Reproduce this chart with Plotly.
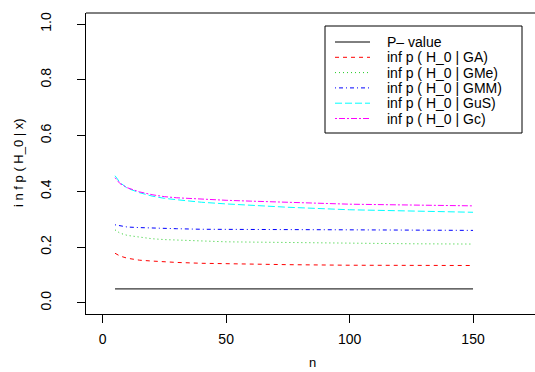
import plotly.graph_objects as go

n_vals = [5, 7, 10, 15, 20, 25, 30, 40, 50, 60, 75, 100, 125, 150]
p_value = [0.05] * len(n_vals)
ga = [0.178, 0.168, 0.160, 0.153, 0.150, 0.147, 0.145, 0.142, 0.140, 0.139, 0.137, 0.135, 0.134, 0.134]
gme = [0.262, 0.250, 0.242, 0.235, 0.230, 0.227, 0.225, 0.221, 0.219, 0.218, 0.216, 0.214, 0.212, 0.211]
gmm = [0.280, 0.276, 0.272, 0.270, 0.268, 0.267, 0.266, 0.264, 0.264, 0.263, 0.263, 0.262, 0.261, 0.260]
gus = [0.456, 0.432, 0.411, 0.395, 0.383, 0.375, 0.370, 0.361, 0.355, 0.350, 0.343, 0.334, 0.329, 0.325]
gc = [0.449, 0.428, 0.413, 0.398, 0.388, 0.381, 0.377, 0.372, 0.368, 0.365, 0.361, 0.354, 0.351, 0.348]

series_names = ["P\u2013 value", "inf p ( H_0 | GA)", "inf p ( H_0 | GMe)",
                "inf p ( H_0 | GMM)", "inf p ( H_0 | GuS)", "inf p ( H_0 | Gc)"]
series_values = [p_value, ga, gme, gmm, gus, gc]
colors = ["black", "red", "#22CC22", "blue", "cyan", "magenta"]
dashes = ["solid", "4px,4px", "1px,3px", "1px,3px,4px,3px", "7px,3px", "2px,2px,6px,2px"]

x_ticks = [0, 50, 100, 150]
y_ticks = [0.0, 0.2, 0.4, 0.6, 0.8, 1.0]
y_tick_labels = ["0.0", "0.2", "0.4", "0.6", "0.8", "1.0"]
y_title = "i n f p ( H_0 | x)"
x_title = "n"

FONT = "Liberation Sans, Arial, sans-serif"
W, H = 535, 372
ML, MT, MB, MR = 86, 13, 58, 0
PW, PH = W - ML - MR, H - MT - MB

def px_x(p):
    return (p - ML) / PW

def px_y(p):
    return (H - MB - p) / PH

fig = go.Figure()
for name, vals, col, dash in zip(series_names, series_values, colors, dashes):
    fig.add_trace(go.Scatter(x=n_vals, y=vals, mode="lines", name=name,
                             line=dict(color=col, width=1, dash=dash),
                             showlegend=False, hoverinfo="skip"))

shapes = []
annotations = []
# plot box top line (right edge lies beyond the window)
shapes.append(dict(type="line", xref="paper", yref="paper", x0=0, x1=1, y0=1, y1=1,
                   line=dict(color="black", width=1)))

# manual legend
shapes.append(dict(type="rect", xref="paper", yref="paper",
                   x0=px_x(325), x1=px_x(522), y0=px_y(133), y1=px_y(26),
                   line=dict(color="black", width=1), fillcolor="white"))
row0, step = 42, 15.3
for i, (name, col, dash) in enumerate(zip(series_names, colors, dashes)):
    yy = px_y(row0 + i * step)
    shapes.append(dict(type="line", xref="paper", yref="paper",
                       x0=px_x(335), x1=px_x(370), y0=yy, y1=yy,
                       line=dict(color=col, width=1, dash=dash)))
    annotations.append(dict(xref="paper", yref="paper", x=px_x(385), y=yy,
                            text=name, showarrow=False, xanchor="left", yanchor="middle",
                            font=dict(family=FONT, size=14, color="black")))

annotations.append(dict(xref="paper", yref="paper", x=px_x(18), y=px_y(163),
                        text=y_title, showarrow=False, textangle=-90,
                        xanchor="center", yanchor="middle",
                        font=dict(family=FONT, size=13, color="black")))
annotations.append(dict(xref="paper", yref="paper", x=px_x(312), y=px_y(362),
                        text=x_title, showarrow=False, xanchor="center", yanchor="middle",
                        font=dict(family=FONT, size=13, color="black")))

fig.update_layout(
    width=W, height=H,
    margin=dict(l=ML, r=MR, t=MT, b=MB, pad=0, autoexpand=False),
    paper_bgcolor="white", plot_bgcolor="white",
    font=dict(family=FONT, size=14, color="black"),
    shapes=shapes, annotations=annotations,
    xaxis=dict(range=[-6.76, 175.1], tickmode="array", tickvals=x_ticks,
               ticktext=[str(v) for v in x_ticks], automargin=False,
               ticks="outside", ticklen=8, tickwidth=1, tickcolor="black",
               showline=True, linecolor="black", linewidth=1, mirror=False,
               showgrid=False, zeroline=False, ticklabelstandoff=4,
               tickfont=dict(family=FONT, size=14)),
    yaxis=dict(range=[-0.04, 1.04], tickmode="array", tickvals=y_ticks,
               ticktext=y_tick_labels, tickangle=-90, automargin=False,
               ticks="outside", ticklen=8, tickwidth=1, tickcolor="black",
               showline=True, linecolor="black", linewidth=1, mirror=False,
               showgrid=False, zeroline=False, ticklabelstandoff=20,
               tickfont=dict(family=FONT, size=14)),
)

fig.write_html("out.html", config={"displayModeBar": False},
               post_script="document.body.style.margin='0';document.body.style.overflow='hidden';")
